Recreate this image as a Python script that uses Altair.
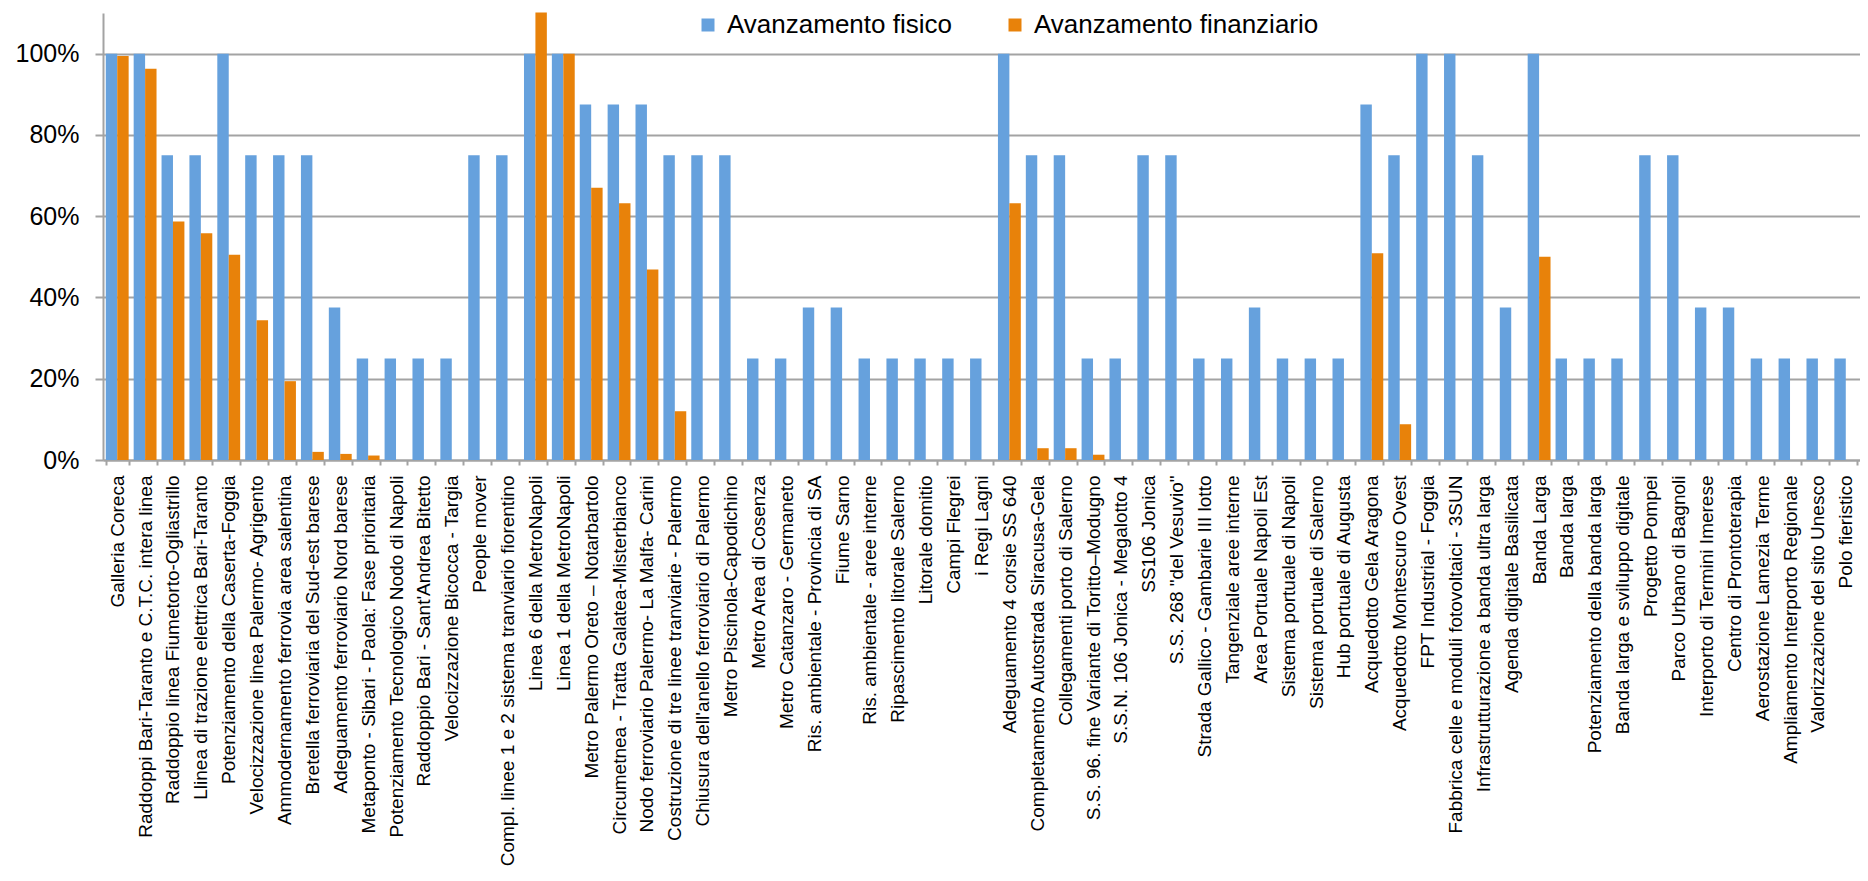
import altair as alt
import pandas as pd

categories = [
    "Galleria Coreca",
    "Raddoppi Bari-Taranto e C.T.C. intera linea",
    "Raddoppio linea Fiumetorto-Ogliastrillo",
    "Llinea di trazione elettrica Bari-Taranto",
    "Potenziamento della Caserta-Foggia",
    "Velocizzazione linea Palermo- Agrigento",
    "Ammodernamento ferrovia area salentina",
    "Bretella ferroviaria del Sud-est barese",
    "Adeguamento ferroviario  Nord barese",
    "Metaponto - Sibari - Paola: Fase prioritaria",
    "Potenziamento Tecnologico  Nodo di Napoli",
    "Raddoppio Bari - Sant'Andrea Bitetto",
    "Velocizzazione  Bicocca - Targia",
    "People mover",
    "Compl. linee 1 e 2 sistema tranviario fiorentino",
    "Linea 6 della MetroNapoli",
    "Linea 1 della MetroNapoli",
    "Metro Palermo Oreto \u2013 Notarbartolo",
    "Circumetnea - Tratta  Galatea-Misterbianco",
    "Nodo ferroviario Palermo-  La Malfa- Carini",
    "Costruzione di tre linee tranviarie - Palermo",
    "Chiusura dell'anello ferroviario di Palermo",
    "Metro Piscinola-Capodichino",
    "Metro Area di Cosenza",
    "Metro Catanzaro - Germaneto",
    "Ris. ambientale - Provincia di SA",
    "Fiume Sarno",
    "Ris. ambientale -  aree interne",
    "Ripascimento litorale Salerno",
    "Litorale domitio",
    "Campi Flegrei",
    "i Regi Lagni",
    "Adeguamento 4 corsie SS 640",
    "Completamento Autostrada Siracusa-Gela",
    "Collegamenti porto di Salerno",
    "S.S. 96. fine Variante di Toritto\u2013Modugno",
    "S.S.N. 106 Jonica - Megalotto 4",
    "SS106 Jonica",
    "S.S. 268 \"del Vesuvio\"",
    "Strada Gallico - Gambarie III lotto",
    "Tangenziale aree interne",
    "Area Portuale Napoli Est",
    "Sistema  portuale di Napoli",
    "Sistema portuale di Salerno",
    "Hub portuale di Augusta",
    "Acquedotto Gela Aragona",
    "Acquedotto Montescuro Ovest",
    "FPT Industrial - Foggia",
    "Fabbrica celle e moduli fotovoltaici - 3SUN",
    "Infrastrutturazione a banda ultra larga",
    "Agenda digitale Basilicata",
    "Banda Larga",
    "Banda larga",
    "Potenziamento della banda larga",
    "Banda larga e sviluppo digitale",
    "Progetto Pompei",
    "Parco Urbano di Bagnoli",
    "Interporto di Termini Imerese",
    "Centro di Prontoterapia",
    "Aerostazione Lamezia Terme",
    "Ampliamento Interporto Regionale",
    "Valorizzazione del sito Unesco",
    "Polo fieristico",
]

fisico = [
    1.00, 1.00, 0.75, 0.75, 1.00, 0.75, 0.75, 0.75, 0.375, 0.25,
    0.25, 0.25, 0.25, 0.75, 0.75, 1.00, 1.00, 0.875, 0.875, 0.875,
    0.75, 0.75, 0.75, 0.25, 0.25, 0.375, 0.375, 0.25, 0.25, 0.25,
    0.25, 0.25, 1.00, 0.75, 0.75, 0.25, 0.25, 0.75, 0.75, 0.25,
    0.25, 0.375, 0.25, 0.25, 0.25, 0.875, 0.75, 1.00, 1.00, 0.75,
    0.375, 1.00, 0.25, 0.25, 0.25, 0.75, 0.75, 0.375, 0.375, 0.25,
    0.25, 0.25, 0.25,
]

finanziario = [
    0.994, 0.963, 0.587, 0.558, 0.505, 0.344, 0.194, 0.020, 0.015, 0.011,
    None, None, None, None, None, 1.101, 1.00, 0.670, 0.632, 0.469,
    0.120, None, None, None, None, None, None, None, None, None,
    None, None, 0.632, 0.029, 0.029, 0.013, None, None, None, None,
    None, None, None, None, None, 0.509, 0.088, None, None, None,
    None, 0.500, None, None, None, None, None, None, None, None,
    None, None, None,
]

series = ["Avanzamento fisico", "Avanzamento finanziario"]
colors = ["#66A1DD", "#E8820A"]

rows = []
for i, c in enumerate(categories):
    rows.append({"cat": c, "serie": series[0], "val": fisico[i]})
    if finanziario[i] is not None:
        rows.append({"cat": c, "serie": series[1], "val": finanziario[i]})
df = pd.DataFrame(rows)

FONT = "Liberation Sans"
GRAY = "#A3A3A3"

chart = alt.Chart(df).mark_bar().encode(
    x=alt.X(
        "cat:N",
        sort=categories,
        scale=alt.Scale(paddingInner=0.18, paddingOuter=0.1),
        axis=alt.Axis(
            title=None,
            labelAngle=-90,
            labelFontSize=19,
            labelFont=FONT,
            labelColor="#000000",
            labelPadding=10,
            labelLimit=1000,
            labelOverlap=False,
            tickBand="extent",
            tickSize=5,
            tickColor=GRAY,
            tickWidth=2,
            domainColor=GRAY,
            domainWidth=2,
            grid=False,
        ),
    ),
    xOffset=alt.XOffset("serie:N", sort=series, scale=alt.Scale(paddingInner=0, paddingOuter=0)),
    y=alt.Y(
        "val:Q",
        scale=alt.Scale(domain=[0, 1.1], nice=False),
        axis=alt.Axis(
            title=None,
            format=".0%",
            values=[0, 0.2, 0.4, 0.6, 0.8, 1.0],
            labelFontSize=25,
            labelFont=FONT,
            labelColor="#000000",
            labelPadding=16,
            tickSize=8,
            tickColor=GRAY,
            tickWidth=2,
            domainColor=GRAY,
            domainWidth=2,
            grid=True,
            gridColor=GRAY,
            gridWidth=2,
        ),
    ),
    color=alt.Color(
        "serie:N",
        sort=series,
        scale=alt.Scale(domain=series, range=colors),
        legend=alt.Legend(
            title=None,
            orient="none",
            direction="horizontal",
            legendX=592,
            legendY=-1,
            symbolType="square",
            symbolSize=169,
            symbolStrokeWidth=0,
            symbolOpacity=1,
            labelFontSize=26,
            labelFont=FONT,
            labelColor="#000000",
            labelOffset=6,
            labelLimit=1000,
            columnPadding=50,
        ),
    ),
).properties(
    width=1757,
    height=447,
    padding={"left": 95, "top": 5, "right": 0, "bottom": 410},
    autosize="none",
).configure_view(
    stroke=None
)

chart.save("out.html", embed_options={"renderer": "svg", "actions": False})
